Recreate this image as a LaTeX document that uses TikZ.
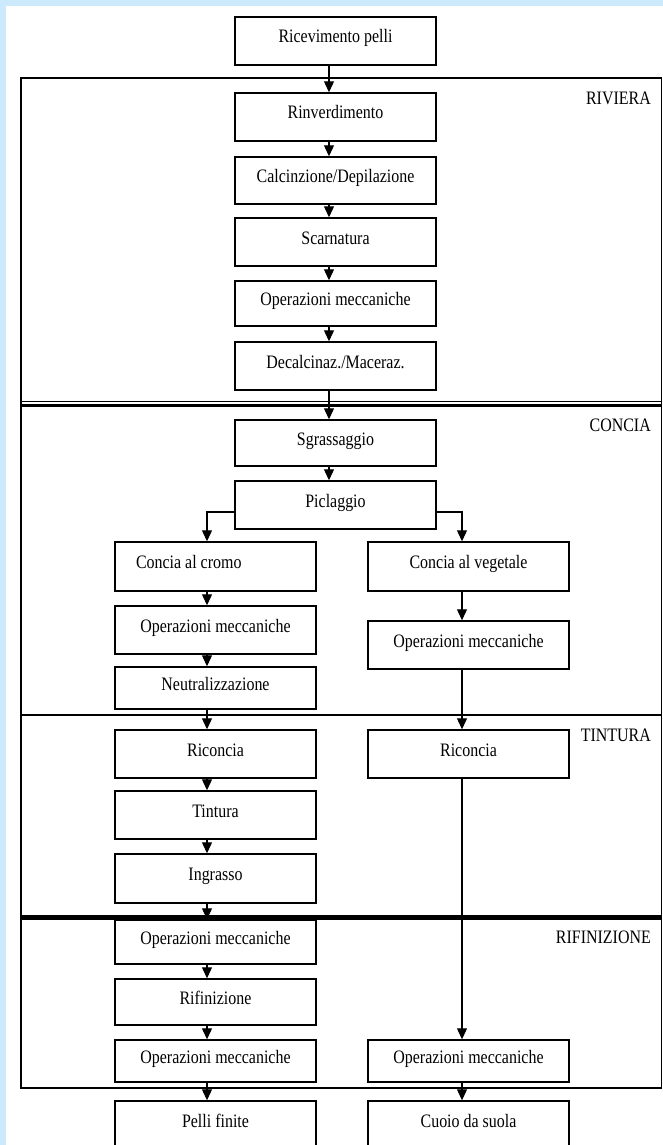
\documentclass[tikz,border=0pt]{standalone}
\usepackage{fontspec}
\setmainfont{Liberation Serif}[FakeStretch=0.84]
\usetikzlibrary{arrows.meta}
\definecolor{bgblue}{RGB}{204,234,252}
\begin{document}
\begin{tikzpicture}[x=1pt,y=-1pt,
  box/.style={draw, line width=1.4pt, minimum width=201pt, inner sep=0pt,
    text height=8pt, text depth=4pt, font=\fontsize{19}{22}\selectfont},
  conn/.style={line width=1.1pt, -{Triangle[width=10pt,length=11pt]}},
  sect/.style={anchor=base east, inner sep=0pt, font=\fontsize{19}{22}\selectfont},
  frameline/.style={line width=1.3pt}]
\fill[bgblue] (0,0) rectangle (663,1145);
\fill[white] (6,6) rectangle (663,1145);
\useasboundingbox (0,0) rectangle (663,1145);

% section frame
\draw[frameline] (21,78) rectangle (661.5,1088);
\draw[line width=1pt] (21,401.5) -- (661.5,401.5);
\draw[line width=3.5pt] (21,405.5) -- (661.5,405.5);
\draw[line width=1.6pt] (21,715) -- (661.5,715);
\draw[line width=5pt] (21,917) -- (661.5,917);

% section labels
\node[sect] (lriv) at (651,105) {RIVIERA};
\node[sect] (lcon) at (651,431) {CONCIA};
\node[sect] (ltin) at (651,741) {TINTURA};
\node[sect] (lrif) at (651,943) {RIFINIZIONE};

% main column
\node[box, minimum height=48pt] (r0) at (335.5,41) {Ricevimento pelli};
\node[box, minimum height=48pt] (r1) at (335.5,117) {Rinverdimento};
\node[box, minimum height=47pt] (r2) at (335.5,180.5) {Calcinzione/Depilazione};
\node[box, minimum height=48pt] (r3) at (335.5,242) {Scarnatura};
\node[box, minimum height=45pt] (r4) at (335.5,303.5) {Operazioni meccaniche};
\node[box, minimum height=48pt] (r5) at (335.5,366) {Decalcinaz./Maceraz.};
\node[box, minimum height=46pt] (c1) at (335.5,443) {Sgrassaggio};
\node[box, minimum height=48pt] (c2) at (335.5,505) {Piclaggio};

% left column
\node[box, minimum height=49pt] (lc) at (215.5,566.5) {\makebox[159pt][l]{Concia al cromo}};
\node[box, minimum height=48pt] (lm) at (215.5,630) {Operazioni meccaniche};
\node[box, minimum height=42pt] (ln) at (215.5,688) {Neutralizzazione};
\node[box, minimum height=48pt] (lr) at (215.5,754) {Riconcia};
\node[box, minimum height=48pt] (lt) at (215.5,815) {Tintura};
\node[box, minimum height=49pt] (li) at (215.5,878.5) {Ingrasso};
\node[box, minimum height=44pt] (f1) at (215.5,942) {Operazioni meccaniche};
\node[box, minimum height=46pt] (f2) at (215.5,1002) {Rifinizione};
\node[box, minimum height=42pt] (f3) at (215.5,1061) {Operazioni meccaniche};
\node[box, minimum height=48pt] (lp) at (215.5,1125) {Pelli finite};

% right column
\node[box, minimum height=49pt] (rv) at (468.5,566.5) {Concia al vegetale};
\node[box, minimum height=48pt] (rm) at (468.5,645) {Operazioni meccaniche};
\node[box, minimum height=48pt] (rr) at (468.5,754) {Riconcia};
\node[box, minimum height=42pt] (rf3) at (468.5,1061) {Operazioni meccaniche};
\node[box, minimum height=48pt] (cu) at (468.5,1125) {Cuoio da suola};

% connectors main
\foreach \a/\b in {r0/r1,r1/r2,r2/r3,r3/r4,r4/r5,r5/c1,c1/c2}
  \draw[conn] ([xshift=-6.5pt]\a.south) -- ([xshift=-6.5pt]\b.north);
% branches
\draw[conn] ([yshift=-7pt]c2.west) -| ([xshift=-8.5pt]lc.north);
\draw[conn] ([yshift=-7pt]c2.east) -| ([xshift=-6.5pt]rv.north);
% left chain
\foreach \a/\b in {lc/lm,lm/ln,ln/lr,lr/lt,lt/li,li/f1,f1/f2,f2/f3,f3/lp}
  \draw[conn] ([xshift=-8.5pt]\a.south) -- ([xshift=-8.5pt]\b.north);
% right chain
\foreach \a/\b in {rv/rm,rm/rr,rr/rf3,rf3/cu}
  \draw[conn] ([xshift=-6.5pt]\a.south) -- ([xshift=-6.5pt]\b.north);
\end{tikzpicture}
\end{document}
